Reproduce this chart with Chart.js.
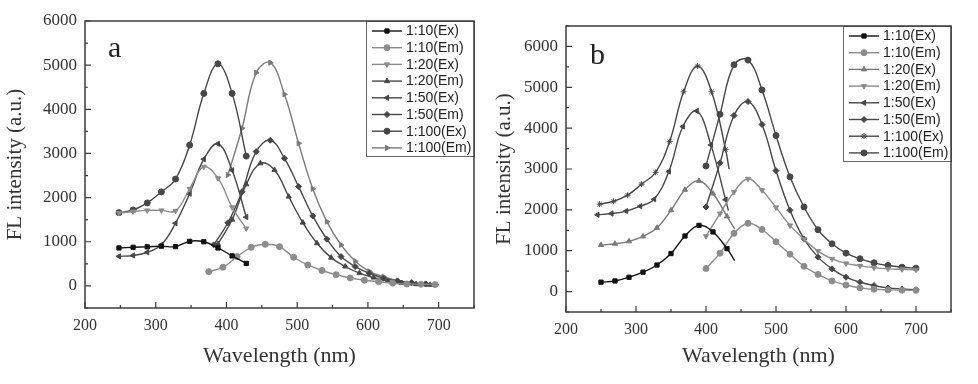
<!DOCTYPE html>
<html>
<head>
<meta charset="utf-8">
<script src="https://cdn.jsdelivr.net/npm/chart.js@4"></script>
<style>
  html, body { margin: 0; padding: 0; background: #fff; }
  #wrap { position: relative; width: 978px; height: 384px; }
  .panel { position: absolute; top: 0; width: 489px; height: 384px; }
</style>
</head>
<body>
<div id="wrap">
  <div class="panel" style="left:0"><canvas id="chartA"></canvas></div>
  <div class="panel" style="left:489px"><canvas id="chartB"></canvas></div>
</div>
<script>
// ---- tick labels ----
const xTicks = [200, 300, 400, 500, 600, 700];
const yTicksA = [0, 1000, 2000, 3000, 4000, 5000, 6000];
const yTicksB = [0, 1000, 2000, 3000, 4000, 5000, 6000];

// ---- panel a (wavelength nm / intensity) ----
const aExWl = [248, 268, 288, 308, 328, 348, 368, 388, 408, 428];
const a10Ex = [860, 875, 885, 900, 890, 1010, 1000, 860, 680, 510];
const a20Ex = [1650, 1685, 1710, 1710, 1700, 2200, 2700, 2440, 1780, 1300];
const a50Ex = [670, 690, 760, 930, 1420, 2090, 2870, 3220, 2620, 1560];
const a100Ex = [1660, 1720, 1880, 2130, 2420, 3190, 4360, 5030, 4360, 2940];

const a10EmWl = [375, 395, 415, 435, 455, 475, 495, 515, 535, 555, 575, 595, 615, 635, 655, 675, 695];
const a10Em = [323, 423, 664, 875, 943, 890, 649, 475, 350, 255, 180, 130, 95, 62, 45, 38, 30];
const a20EmWl = [388, 408, 428, 448, 468, 488, 508, 528, 548, 568, 588, 608, 628, 648, 668, 688];
const a20Em = [950, 1500, 2300, 2777, 2626, 2023, 1434, 966, 640, 440, 290, 190, 110, 65, 40, 25];
const a50EmWl = [382, 402, 422, 442, 462, 482, 502, 522, 542, 562, 582, 602, 622, 642, 662, 682];
const a50Em = [930, 1430, 2135, 3042, 3300, 2891, 2249, 1585, 1057, 664, 438, 287, 174, 113, 75, 45];
const a100EmWl = [402, 422, 442, 462, 482, 502, 522, 542, 562, 582, 602, 622, 642, 662, 682];
const a100Em = [2513, 3570, 4830, 5057, 4340, 3230, 2200, 1456, 928, 560, 330, 211, 121, 70, 45];
// the Em lines run on to 700 nm past their last marker
const a20EmEnd = [700, 25];
const a50EmEnd = [700, 30];
const a100EmEnd = [700, 30];

// ---- panel b ----
const bExWl = [250, 270, 290, 310, 330, 350, 370, 390, 410, 430];
const b50ExWl = [245, 265, 286, 306, 326, 347, 367, 387, 407, 428];
const b100ExWl = [248, 268, 288, 308, 328, 348, 368, 388, 408, 428];
const b10Ex = [230, 260, 350, 475, 650, 930, 1360, 1620, 1460, 1050];
const b20Ex = [1140, 1170, 1230, 1350, 1560, 1990, 2490, 2710, 2400, 1840];
const b50Ex = [1880, 1910, 1970, 2090, 2260, 2940, 4040, 4420, 3590, 2250];
const b100Ex = [2140, 2210, 2360, 2630, 2920, 3670, 4890, 5520, 4890, 3480];
// where the Ex lines stop after their last marker
const b10ExEnd = [441, 760];
const b20ExEnd = [441, 1530];
const b50ExEnd = [432, 1980];
const b100ExEnd = [433, 3000];

const bEmWl = [400, 420, 440, 460, 480, 500, 520, 540, 560, 580, 600, 620, 640, 660, 680, 700];
const b10Em = [565, 940, 1425, 1670, 1520, 1220, 915, 620, 420, 260, 160, 90, 57, 41, 35, 30];
const b20Em = [1355, 1908, 2440, 2760, 2480, 2060, 1620, 1280, 990, 800, 690, 630, 585, 556, 545, 535];
const b50Em = [2070, 3150, 4310, 4650, 4090, 2960, 1990, 1290, 843, 556, 352, 229, 147, 90, 65, 45];
const b100Em = [3075, 4340, 5550, 5665, 4935, 3820, 2808, 2070, 1514, 1170, 941, 802, 704, 638, 597, 573];

const BLACK = '#111111';
const DARK = '#474747';
const MID = '#7a7a7a';
const LIGHT = '#8c8c8c';

Chart.defaults.font.family = "'Liberation Serif', 'DejaVu Serif', serif";
Chart.defaults.color = '#333';

function series(label, wl, vals, color, shape, rot, end) {
    const data = wl.map((x, i) => ({ x: x, y: vals[i] }));
    const radius = data.map(() => 3);
    if (end) {
        data.push({ x: end[0], y: end[1] });
        radius.push(0);
    }
    return {
        label: label,
        data: data,
        borderColor: color,
        backgroundColor: color,
        borderWidth: 1.4,
        pointStyle: shape,
        pointRotation: rot,
        pointRadius: radius,
        pointBorderWidth: 1,
        tension: 0.4,
        fill: false
    };
}

// legend drawn inside the plot, top right, with a box
const boxLegend = {
    id: 'boxLegend',
    afterDatasetsDraw(chart, args, opts) {
        const { ctx, chartArea } = chart;
        const w = opts.width, h = opts.height;
        const left = chartArea.right - w, top = chartArea.top;
        ctx.save();
        ctx.fillStyle = '#fff';
        ctx.fillRect(left, top, w, h);
        ctx.strokeStyle = '#666';
        ctx.lineWidth = 1;
        ctx.strokeRect(left + 0.5, top + 0.5, w, h);
        ctx.font = "14px 'Liberation Sans', Arial, sans-serif";
        ctx.textBaseline = 'middle';
        chart.data.datasets.forEach((ds, i) => {
            const y = top + opts.first + i * 16.7;
            ctx.strokeStyle = ds.borderColor;
            ctx.lineWidth = 1.4;
            ctx.beginPath();
            ctx.moveTo(left + 6, y);
            ctx.lineTo(left + 36, y);
            ctx.stroke();
            ctx.fillStyle = ds.backgroundColor;
            ctx.lineWidth = 1;
            Chart.helpers.drawPoint(ctx, { pointStyle: ds.pointStyle, rotation: ds.pointRotation, radius: 3, borderWidth: 1 }, left + 21, y);
            ctx.fillStyle = '#222';
            ctx.fillText(ds.label, left + 40, y + 0.5);
        });
        ctx.restore();
    }
};

// frame with inward ticks and the panel letter
const frame = {
    id: 'frame',
    afterDraw(chart, args, opts) {
        const { ctx, chartArea: ca, scales } = chart;
        ctx.save();
        ctx.strokeStyle = '#3c3c3c';
        ctx.lineWidth = 1.5;
        ctx.strokeRect(ca.left, ca.top, ca.right - ca.left, ca.bottom - ca.top);
        ctx.lineWidth = 1.2;
        ctx.beginPath();
        for (let v = 200; v <= 750; v += 50) {
            const px = scales.x.getPixelForValue(v);
            const len = v % 100 === 0 ? 6 : 3;
            ctx.moveTo(px, ca.bottom);
            ctx.lineTo(px, ca.bottom - len);
        }
        for (let v = -500; v <= scales.y.max; v += 500) {
            const py = scales.y.getPixelForValue(v);
            const len = v % 1000 === 0 ? 6 : 3;
            ctx.moveTo(ca.left, py);
            ctx.lineTo(ca.left + len, py);
        }
        ctx.stroke();
        ctx.fillStyle = '#222';
        ctx.font = "30px 'Liberation Serif', serif";
        ctx.textBaseline = 'alphabetic';
        ctx.fillText(opts.letter, opts.lx, opts.ly);
        ctx.restore();
    }
};

function makeChart(id, datasets, yMin, yMax, yTicks, pad, yWidth, xHeight, letter, lx, ly, legendFirst) {
    return new Chart(document.getElementById(id), {
        type: 'line',
        data: { datasets: datasets },
        plugins: [boxLegend, frame],
        options: {
            responsive: true,
            maintainAspectRatio: false,
            animation: false,
            devicePixelRatio: 1,
            layout: { padding: pad },
            plugins: {
                legend: { display: false },
                tooltip: { enabled: false },
                boxLegend: { width: 108, height: 135, first: legendFirst },
                frame: { letter: letter, lx: lx, ly: ly }
            },
            scales: {
                x: {
                    type: 'linear',
                    min: 200,
                    max: 750,
                    grid: { display: false },
                    border: { display: false },
                    afterBuildTicks: s => { s.ticks = xTicks.map(v => ({ value: v })); },
                    afterFit: s => { s.height = xHeight; },
                    ticks: { padding: 0, color: '#333', font: { size: 16 }, maxRotation: 0, callback: v => String(v) },
                    title: { display: true, text: 'Wavelength (nm)', color: '#333', font: { size: 22 }, padding: { top: 0, bottom: 15 } }
                },
                y: {
                    min: yMin,
                    max: yMax,
                    grid: { display: false },
                    border: { display: false },
                    afterBuildTicks: s => { s.ticks = yTicks.map(v => ({ value: v })); },
                    afterFit: s => { s.width = yWidth; },
                    ticks: { padding: 0, color: '#333', font: { size: 17 }, callback: v => String(v) },
                    title: { display: true, text: 'FL intensity (a.u.)', color: '#333', font: { size: 21 }, padding: { top: 3, bottom: 0 } }
                }
            }
        }
    });
}

const dsA = [
    series('1:10(Ex)', aExWl, a10Ex, BLACK, 'rect', 0),
    series('1:10(Em)', a10EmWl, a10Em, LIGHT, 'circle', 0),
    series('1:20(Ex)', aExWl, a20Ex, LIGHT, 'triangle', 180),
    series('1:20(Em)', a20EmWl, a20Em, DARK, 'triangle', 0, a20EmEnd),
    series('1:50(Ex)', aExWl, a50Ex, DARK, 'triangle', 270),
    series('1:50(Em)', a50EmWl, a50Em, DARK, 'rectRot', 0, a50EmEnd),
    series('1:100(Ex)', aExWl, a100Ex, DARK, 'circle', 0),
    series('1:100(Em)', a100EmWl, a100Em, MID, 'triangle', 90, a100EmEnd)
];

const dsB = [
    series('1:10(Ex)', bExWl, b10Ex, BLACK, 'rect', 0, b10ExEnd),
    series('1:10(Em)', bEmWl, b10Em, LIGHT, 'circle', 0),
    series('1:20(Ex)', bExWl, b20Ex, MID, 'triangle', 0, b20ExEnd),
    series('1:20(Em)', bEmWl, b20Em, LIGHT, 'triangle', 180),
    series('1:50(Ex)', b50ExWl, b50Ex, DARK, 'triangle', 270, b50ExEnd),
    series('1:50(Em)', bEmWl, b50Em, DARK, 'rectRot', 0),
    series('1:100(Ex)', b100ExWl, b100Ex, DARK, 'star', 0, b100ExEnd),
    series('1:100(Em)', bEmWl, b100Em, DARK, 'circle', 0)
];

makeChart('chartA', dsA, -500, 6000, yTicksA, { left: 0, top: 21, right: 15, bottom: 0 }, 85, 76, 'a', 108, 57, 10);
makeChart('chartB', dsB, -500, 6500, yTicksB, { left: 0, top: 26, right: 27, bottom: 0 }, 77, 72, 'b', 101, 64, 10);
</script>
</body>
</html>
